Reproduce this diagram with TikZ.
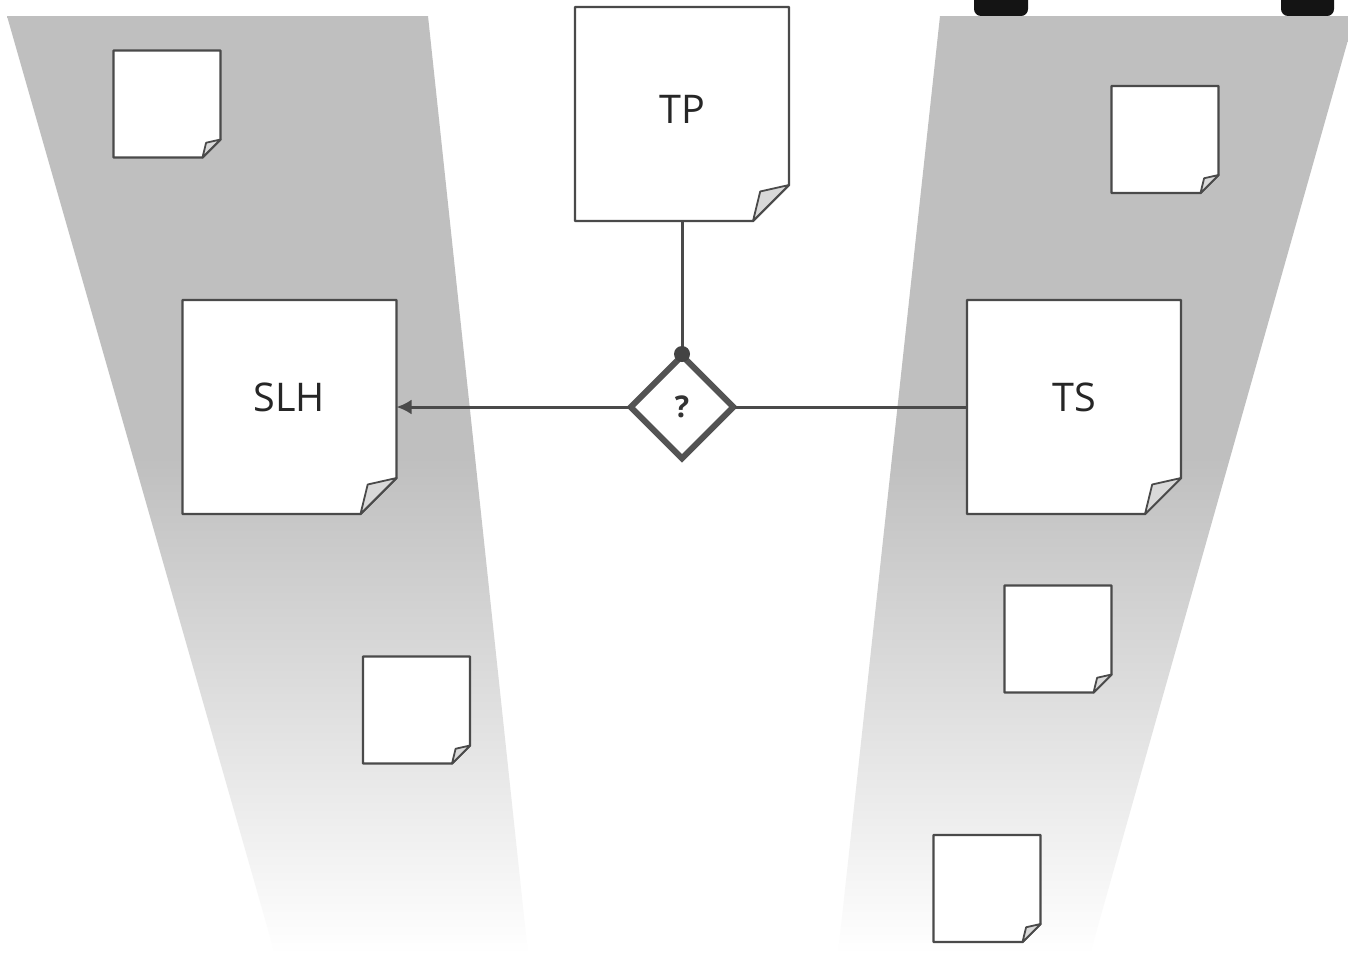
\documentclass[tikz,border=0pt]{standalone}
\usepackage{fontspec}
\setmainfont{Open Sans}
\usetikzlibrary{shapes.geometric,arrows.meta}
\definecolor{band}{HTML}{BFBFBF}
\definecolor{ink}{HTML}{4A4A4A}
\definecolor{fold}{HTML}{D9D9D9}
\pgfdeclareverticalshading{bandfade}{100bp}{color(0bp)=(white); color(25bp)=(white); color(51.5bp)=(band); color(100bp)=(band)}
\tikzset{
  x=1pt,y=-1pt,
  bandshade/.style={shading=bandfade},
  notebody/.style={draw=ink,line width=2.4pt,fill=white,line join=round},
  notefold/.style={draw=ink,line width=1.8pt,fill=fold,line join=round},
  anchorbox/.style={minimum size=1pt,inner sep=0pt,outer sep=0pt},
  bigtext/.style={font=\fontsize{39.5}{40}\selectfont,text=black!85,inner sep=0pt},
  link/.style={draw=ink,line width=3pt},
  decision/.style={diamond,draw=ink!95,line width=6pt,fill=white,minimum width=105pt,minimum height=105pt,inner sep=0pt,aspect=1,font=\bfseries\fontsize{30}{30}\selectfont,text=black!80},
}
% #1 name, #2 x, #3 y, #4 size, #5 fold size
\newcommand{\stickynote}[5]{%
  \draw[notebody] (#2,#3) -- ++(#4,0) -- ++(0,{#4-#5}) -- ++({-#5},#5) -- ++({-(#4-#5)},0) -- cycle;
  \draw[notefold] ({#2+#4},{#3+#4-#5}) -- ++({-0.8*#5},{0.18*#5}) -- ({#2+#4-#5},{#3+#4}) -- cycle;
  \node[anchorbox] (#1) at ({#2+#4/2},{#3+#4/2}) {};
}
\begin{document}
\begin{tikzpicture}
\useasboundingbox (0,0) rectangle (1348,954);
\fill[white] (0,0) rectangle (1348,954);
% black tabs at the top right
\fill[black!92] (974,0) -- (1028,0) -- (1028,9) arc[start angle=0,end angle=90,radius=7] -- (981,16) arc[start angle=90,end angle=180,radius=7] -- cycle;
\fill[black!92] (1281,0) -- (1334,0) -- (1334,9) arc[start angle=0,end angle=90,radius=7] -- (1288,16) arc[start angle=90,end angle=180,radius=7] -- cycle;
% bands
\shade[bandshade] (7,16) -- (428,16) -- (528,954) -- (275,954) -- cycle;
\shade[bandshade] (940,16) -- (1348,16) -- (1348,40) -- (1090,954) -- (838,954) -- cycle;
% small notes
\stickynote{a}{113.5}{50.5}{107}{18}
\stickynote{b}{1111.5}{86}{107}{18}
\stickynote{c}{363}{656.5}{107}{18}
\stickynote{d}{1004.5}{585.5}{107}{18}
\stickynote{e}{933.5}{835}{107}{18}
% big notes
\stickynote{tp}{575}{7}{214}{36}
\stickynote{slh}{182.5}{300}{214}{36}
\stickynote{ts}{967}{300}{214}{36}
\node[bigtext] (tptext) at (682,109.5) {TP};
\node[bigtext] (slhtext) at (289,397) {SLH};
\node[bigtext] (tstext) at (1074,397) {TS};
% decision
\node[decision] (q) at (682,407) {?};
\coordinate (slhedge) at (396.5,407);
\coordinate (tsedge) at (967,407);
\coordinate (tpedge) at (682,221);
\draw[link,-{Latex[length=15pt,width=15pt]}] ([xshift=3pt]q.west) -- (slhedge);
\draw[link] ([xshift=-3pt]q.east) -- (tsedge);
\draw[link] (tpedge) -- (q.north);
\fill[ink!90!black] (682,354) circle (8);
\end{tikzpicture}
\end{document}
